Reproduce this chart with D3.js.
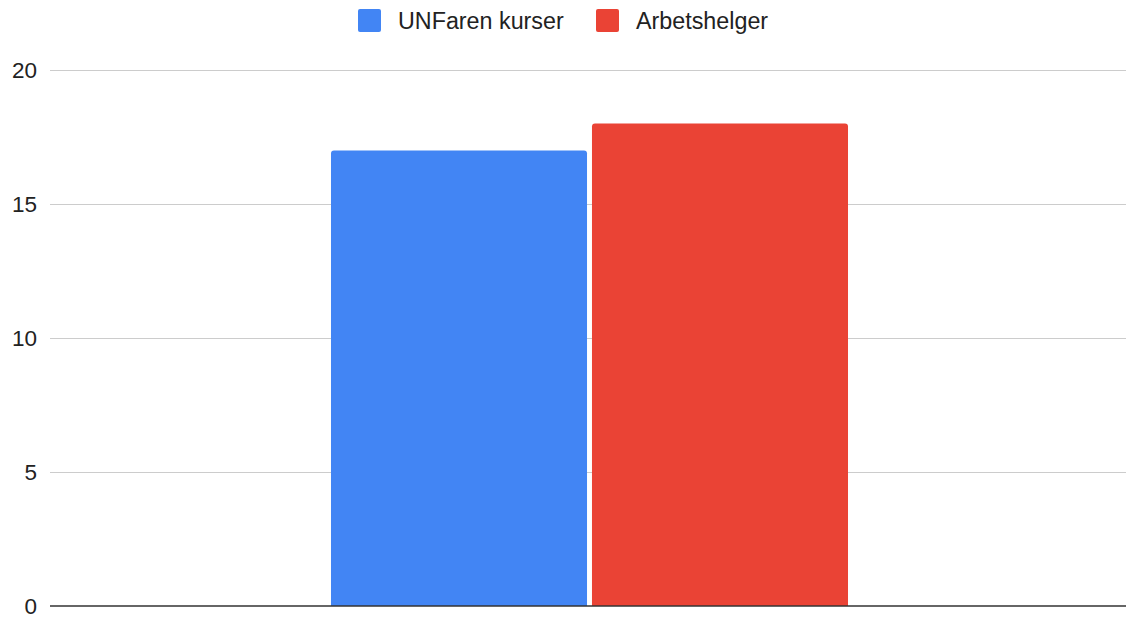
<!DOCTYPE html>
<html>
<head>
<meta charset="utf-8">
<script src="https://cdn.jsdelivr.net/npm/d3@7"></script>
<style>
  body { margin: 0; background: #fff; }
  text { font-family: Arial, "Liberation Sans", sans-serif; }
</style>
</head>
<body>
<script>
// data
var categories = [""];
var seriesNames = ["UNFaren kurser", "Arbetshelger"];
var seriesValues = [[17], [18]];
var colors = ["#4285f4", "#ea4335"];
var yTicks = [0, 5, 10, 15, 20];

var W = 1126, H = 618;
var margin = {top: 70, right: 0, bottom: 12, left: 50};
var w = W - margin.left - margin.right,
    h = H - margin.top - margin.bottom;

var svg = d3.select("body").append("svg")
  .attr("width", W)
  .attr("height", H);

var g = svg.append("g")
  .attr("transform", "translate(" + margin.left + "," + margin.top + ")");

var yScale = d3.scaleLinear().domain([0, 20]).range([h, 0]);
var x0 = d3.scaleBand().domain(categories).range([0, 1079]).paddingInner(0).paddingOuter(0.5435);
var x1 = d3.scaleBand().domain(seriesNames).range([0, x0.bandwidth()]).paddingInner(0.019);

// gridlines
g.selectAll(".grid")
  .data(yTicks.filter(function(d) { return d !== 0; }))
  .enter().append("line")
  .attr("x1", 0).attr("x2", w)
  .attr("y1", function(d) { return Math.round(yScale(d)) + 0.5; })
  .attr("y2", function(d) { return Math.round(yScale(d)) + 0.5; })
  .attr("stroke", "#cccccc")
  .attr("stroke-width", 1);

// tick labels
g.selectAll(".ylab")
  .data(yTicks)
  .enter().append("text")
  .attr("x", -13)
  .attr("y", function(d) { return yScale(d); })
  .attr("dy", "0.35em")
  .attr("text-anchor", "end")
  .attr("font-size", 22.5)
  .attr("fill", "#222")
  .text(function(d) { return d; });

// bars, small rounded top corners
var r = 3;
seriesNames.forEach(function(s, i) {
  categories.forEach(function(c, j) {
    var v = seriesValues[i][j];
    var x = x0(c) + x1(s), bw = x1.bandwidth();
    var y = yScale(v), y0 = yScale(0);
    var p = "M" + x + "," + y0 +
      "V" + (y + r) + "Q" + x + "," + y + " " + (x + r) + "," + y +
      "H" + (x + bw - r) + "Q" + (x + bw) + "," + y + " " + (x + bw) + "," + (y + r) +
      "V" + y0 + "Z";
    g.append("path").attr("d", p).attr("fill", colors[i]);
  });
});

// baseline
g.append("line")
  .attr("x1", 0).attr("x2", w)
  .attr("y1", yScale(0)).attr("y2", yScale(0))
  .attr("stroke", "#333")
  .attr("stroke-width", 1.5);

// legend
var legend = svg.append("g");
var lx = [358, 596];
seriesNames.forEach(function(s, i) {
  legend.append("rect")
    .attr("x", lx[i]).attr("y", 9)
    .attr("width", 23).attr("height", 23)
    .attr("rx", 2)
    .attr("fill", colors[i]);
  legend.append("text")
    .attr("x", lx[i] + 40).attr("y", 21)
    .attr("dy", "0.35em")
    .attr("font-size", 23.3)
    .attr("fill", "#222")
    .text(s);
});
</script>
</body>
</html>
